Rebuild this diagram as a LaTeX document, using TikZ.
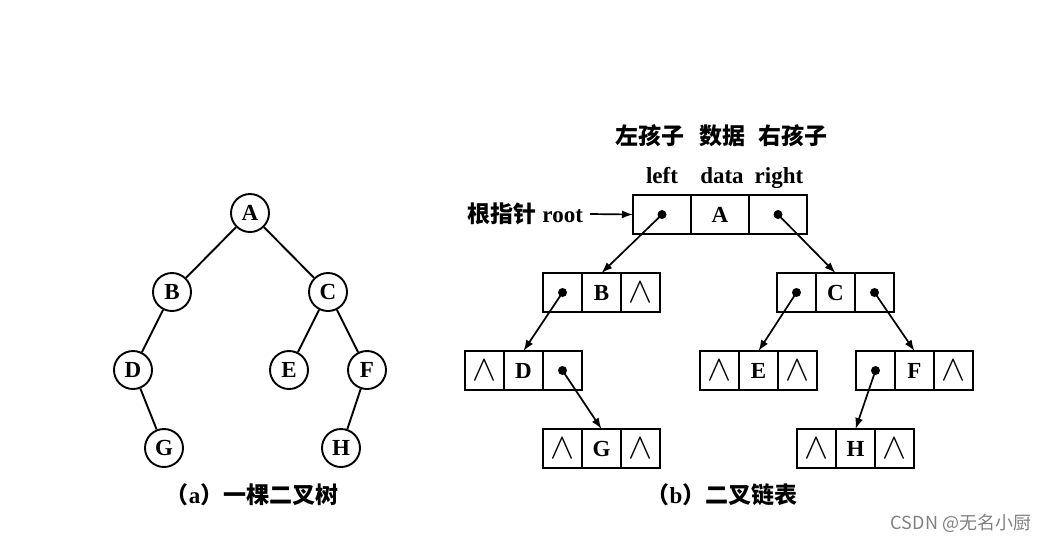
\documentclass[tikz,border=0pt]{standalone}
\usepackage{fontspec}
\setmainfont{Liberation Serif}
\newfontfamily\cjk{Noto Sans CJK SC}
\usetikzlibrary{arrows.meta,positioning}
\newcommand\NullPtr{\scalebox{1.5}{$\wedge$}}

\begin{document}
\begin{tikzpicture}[x=0.5pt,y=-0.5pt,font=\bfseries\fontsize{11.5}{13}\selectfont]
			\tikzstyle{Vertex} 	= [circle, draw, line width=0.95pt, minimum size=19pt, inner sep=0pt]
			\tikzstyle{Edge}	= [line width=0.95pt]
			\tikzstyle{Cell}	= [draw, line width=0.95pt, minimum width=19.5pt, minimum height=19.5pt, inner sep=0pt, outer sep=0pt]
			\tikzstyle{WideCell}	= [Cell, minimum width=29pt]
			\tikzstyle{Dot}		= [circle, fill, minimum size=4.5pt, inner sep=0pt]
			\tikzstyle{Link}	= [line width=0.85pt, -{Latex[length=5.5pt,width=4pt]}]
			\tikzstyle{Head}	= [anchor=base]

			\useasboundingbox (0,0) rectangle (1043,542);

			% (a) the tree
			\node (A) at (250, 213) [Vertex] {A};
			\node (B) at (172, 292) [Vertex] {B};
			\node (C) at (328, 292) [Vertex] {C};
			\node (D) at (133, 370) [Vertex] {D};
			\node (E) at (289, 370) [Vertex] {E};
			\node (F) at (367, 370) [Vertex] {F};
			\node (G) at (164, 448) [Vertex] {G};
			\node (H) at (341, 448) [Vertex] {H};

			\draw [Edge] (A) to (B);
			\draw [Edge] (A) to (C);
			\draw [Edge] (B) to (D);
			\draw [Edge] (C) to (E);
			\draw [Edge] (C) to (F);
			\draw [Edge] (D) to (G);
			\draw [Edge] (F) to (H);

			\node (capA) at (252, 495) {{\cjk （}a{\cjk ）一棵二叉树}};

			% (b) the linked list
			\node (tD) at (720, 214.5) [WideCell] {A};
			\node (tL) [WideCell, left=0pt of tD] {};
			\node (tR) [WideCell, right=0pt of tD] {};

			\node (bD) at (601.5, 292.5) [Cell] {B};
			\node (bL) [Cell, left=0pt of bD] {};
			\node (bR) [Cell, right=0pt of bD] {\NullPtr};

			\node (cD) at (835.5, 292.5) [Cell] {C};
			\node (cL) [Cell, left=0pt of cD] {};
			\node (cR) [Cell, right=0pt of cD] {};

			\node (dD) at (523.5, 370.5) [Cell] {D};
			\node (dL) [Cell, left=0pt of dD] {\NullPtr};
			\node (dR) [Cell, right=0pt of dD] {};

			\node (eD) at (758.5, 370.5) [Cell] {E};
			\node (eL) [Cell, left=0pt of eD] {\NullPtr};
			\node (eR) [Cell, right=0pt of eD] {\NullPtr};

			\node (fD) at (914.5, 370.5) [Cell] {F};
			\node (fL) [Cell, left=0pt of fD] {};
			\node (fR) [Cell, right=0pt of fD] {\NullPtr};

			\node (gD) at (601.5, 448.5) [Cell] {G};
			\node (gL) [Cell, left=0pt of gD] {\NullPtr};
			\node (gR) [Cell, right=0pt of gD] {\NullPtr};

			\node (hD) at (855.5, 448.5) [Cell] {H};
			\node (hL) [Cell, left=0pt of hD] {\NullPtr};
			\node (hR) [Cell, right=0pt of hD] {\NullPtr};

			\node (tLp) at (tL) [Dot] {};
			\node (tRp) at (tR) [Dot] {};
			\node (bLp) at (bL) [Dot] {};
			\node (cLp) at (cL) [Dot] {};
			\node (cRp) at (cR) [Dot] {};
			\node (dRp) at (dR) [Dot] {};
			\node (fLp) at (fL) [Dot] {};

			\draw [Link] (tLp.center) to (bD.north);
			\draw [Link] (tRp.center) to (cD.north);
			\draw [Link] (bLp.center) to (dD.north);
			\draw [Link] (cLp.center) to (eD.north);
			\draw [Link] (cRp.center) to (fD.north);
			\draw [Link] (dRp.center) to (gD.north);
			\draw [Link] (fLp.center) to (hD.north);

			% field names
			\node (zh1) at (650, 144) [Head] {\cjk 左孩子};
			\node (zh2) at (722, 144) [Head] {\cjk 数据};
			\node (zh3) at (793, 144) [Head] {\cjk 右孩子};
			\node (en1) at (662, 183) [Head] {left};
			\node (en2) at (722, 183) [Head] {data};
			\node (en3) at (779, 183) [Head] {right};

			\node (root) at (590, 214) [anchor=east] {{\cjk 根指针} root};
			\draw [Link] (root.east) to (tL.west);

			\node (capB) at (722, 495) {{\cjk （}b{\cjk ）二叉链表}};

			\node (mark) at (961, 523) [text=gray, font=\mdseries\cjk\fontsize{9}{9}\selectfont] {CSDN @无名小厨};
		\end{tikzpicture}
\end{document}
